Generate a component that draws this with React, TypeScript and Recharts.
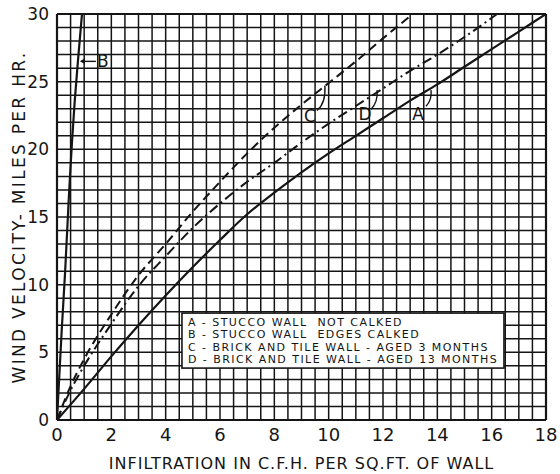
import { LineChart, Line, XAxis, YAxis, ReferenceLine, ReferenceDot, Label } from 'recharts';

// curve A - stucco wall not calked
const curveA = [
  { x: 0, y: 0 }, { x: 1, y: 2.3 }, { x: 2, y: 4.7 }, { x: 3, y: 7.0 }, { x: 4, y: 9.2 },
  { x: 5, y: 11.3 }, { x: 6, y: 13.3 }, { x: 7, y: 15.2 }, { x: 8, y: 16.8 }, { x: 9, y: 18.3 },
  { x: 10, y: 19.7 }, { x: 11, y: 21.0 }, { x: 12, y: 22.3 }, { x: 13, y: 23.6 }, { x: 14, y: 24.8 },
  { x: 15, y: 26.1 }, { x: 16, y: 27.4 }, { x: 17, y: 28.7 }, { x: 18, y: 30 },
];

// curve B - stucco wall edges calked
const curveB = [
  { x: 0, y: 0 }, { x: 0.17, y: 6.5 }, { x: 0.3, y: 11 }, { x: 0.45, y: 17 },
  { x: 0.55, y: 20.5 }, { x: 0.65, y: 23.5 }, { x: 0.77, y: 26.5 }, { x: 0.92, y: 30 },
];

// curve C - brick and tile, 3 months
const curveC = [
  { x: 0, y: 0 }, { x: 0.5, y: 2.5 }, { x: 1, y: 4.5 }, { x: 2, y: 7.8 }, { x: 3, y: 10.7 },
  { x: 4, y: 13.0 }, { x: 5, y: 15.4 }, { x: 6, y: 17.6 }, { x: 7, y: 19.7 }, { x: 8, y: 21.6 },
  { x: 9, y: 23.3 }, { x: 10, y: 24.9 }, { x: 11, y: 26.5 }, { x: 12, y: 28.2 }, { x: 13.1, y: 30 },
];

// curve D - brick and tile, 13 months
const curveD = [
  { x: 0, y: 0 }, { x: 0.5, y: 2.2 }, { x: 1, y: 4.0 }, { x: 2, y: 7.1 }, { x: 3, y: 9.9 },
  { x: 4, y: 12.1 }, { x: 5, y: 14.2 }, { x: 6, y: 16.0 }, { x: 7, y: 17.6 }, { x: 8, y: 19.0 },
  { x: 9, y: 20.5 }, { x: 10, y: 21.9 }, { x: 11, y: 23.2 }, { x: 12, y: 24.5 }, { x: 13, y: 25.8 },
  { x: 14, y: 27.0 }, { x: 15, y: 28.3 }, { x: 16.2, y: 30 },
];

const xTicks = [0, 2, 4, 6, 8, 10, 12, 14, 16, 18];
const yTicks = [0, 5, 10, 15, 20, 25, 30];
const xGrid = Array.from({ length: 37 }, (_, i) => i * 0.5);
const yGrid = Array.from({ length: 31 }, (_, i) => i);

const legendLines = [
  'A - STUCCO WALL  NOT CALKED',
  'B - STUCCO WALL  EDGES CALKED',
  'C - BRICK AND TILE WALL - AGED 3 MONTHS',
  'D - BRICK AND TILE WALL - AGED 13 MONTHS',
];

const ink = '#151515';
const font = '"DejaVu Sans", sans-serif';

// letter plus small pointer, offsets relative to the label centre
const markers = [
  { key: 'C', x: 9.31, y: 22.5, arrow: 'M 7 -5 Q 16 -12 15 -30' },
  { key: 'D', x: 11.34, y: 22.6, arrow: 'M 6 -5 Q 13 -12 12 -24' },
  { key: 'A', x: 13.29, y: 22.6, arrow: 'M 8 -8 Q 14 -14 13 -24' },
];

function Marker({ cx, cy, letter, arrow }: any) {
  return (
    <g>
      <text x={cx} y={cy} textAnchor="middle" dominantBaseline="central" fontSize={17} fontFamily={font} fill={ink}>
        {letter}
      </text>
      <path d={arrow} transform={`translate(${cx},${cy})`} fill="none" stroke={ink} strokeWidth={1.4} />
    </g>
  );
}

function BMarker({ cx, cy }: any) {
  return (
    <g>
      <text x={cx} y={cy} textAnchor="middle" dominantBaseline="central" fontSize={17} fontFamily={font} fill={ink}>B</text>
      <line x1={cx - 7} y1={cy} x2={cx - 22} y2={cy} stroke={ink} strokeWidth={1.4} />
      <path d={`M ${cx - 23} ${cy} l 5 -3 l 0 6 z`} fill={ink} />
    </g>
  );
}

// white key box anchored at its top-left corner
function LegendBox({ cx, cy }: any) {
  return (
    <g>
      <rect x={cx} y={cy} width={322} height={55} fill="#fff" stroke={ink} strokeWidth={1.6} />
      {legendLines.map((t, i) => (
        <text key={t} x={cx + 6} y={cy + 12.5 + i * 12.6} fontSize={11} fontFamily={font} fill={ink} letterSpacing={1.45} style={{ whiteSpace: 'pre' }}>
          {t}
        </text>
      ))}
    </g>
  );
}

function YTitle() {
  const cy = 217;
  return (
    <text x={19} y={cy} transform={`rotate(-90 19 ${cy})`} textAnchor="middle" dominantBaseline="central" fontSize={17} fontFamily={font} fill={ink} letterSpacing={2.3}>
      WIND VELOCITY- MILES PER HR.
    </text>
  );
}

export default function App() {
  return (
    <div style={{ width: 560, height: 474, background: '#fff' }}>
      <style>{'body{margin:0}'}</style>
      <LineChart width={560} height={474} margin={{ top: 14, right: 14, left: 0, bottom: 0 }}>
        <XAxis
          type="number"
          dataKey="x"
          domain={[0, 18]}
          ticks={xTicks}
          height={54}
          axisLine={false}
          tickLine={false}
          tick={{ fontSize: 18, fill: ink, fontFamily: font }}
          allowDataOverflow
        >
          <Label value="INFILTRATION IN C.F.H. PER SQ.FT. OF WALL" position="insideBottom" offset={5} fontSize={16} fill={ink} fontFamily={font} letterSpacing={1} />
        </XAxis>
        <YAxis
          type="number"
          domain={[0, 30]}
          ticks={yTicks}
          width={57}
          axisLine={false}
          tickLine={false}
          tick={{ fontSize: 17, fill: ink, fontFamily: font }}
          allowDataOverflow
        >
          <Label content={YTitle} />
        </YAxis>
        {xGrid.map((v) => (
          <ReferenceLine key={'gx' + v} x={v} stroke={ink} strokeWidth={v === 0 || v === 18 ? 2.2 : 1.5} />
        ))}
        {yGrid.map((v) => (
          <ReferenceLine key={'gy' + v} y={v} stroke={ink} strokeWidth={v === 0 || v === 30 ? 2.2 : 1.5} />
        ))}
        <Line data={curveA} dataKey="y" type="monotone" stroke={ink} strokeWidth={2.2} dot={false} isAnimationActive={false} />
        <Line data={curveB} dataKey="y" type="monotone" stroke={ink} strokeWidth={2.2} dot={false} isAnimationActive={false} />
        <Line data={curveC} dataKey="y" type="monotone" stroke={ink} strokeWidth={2} strokeDasharray="9 5" dot={false} isAnimationActive={false} />
        <Line data={curveD} dataKey="y" type="monotone" stroke={ink} strokeWidth={2} strokeDasharray="10 4 2 4" dot={false} isAnimationActive={false} />
        <ReferenceDot x={4.6} y={7.9} r={0} shape={(p: any) => <LegendBox {...p} />} />
        {markers.map((m) => (
          <ReferenceDot key={m.key} x={m.x} y={m.y} r={0} shape={(p: any) => <Marker {...p} letter={m.key} arrow={m.arrow} />} />
        ))}
        <ReferenceDot x={1.69} y={26.5} r={0} shape={(p: any) => <BMarker {...p} />} />
      </LineChart>
    </div>
  );
}
